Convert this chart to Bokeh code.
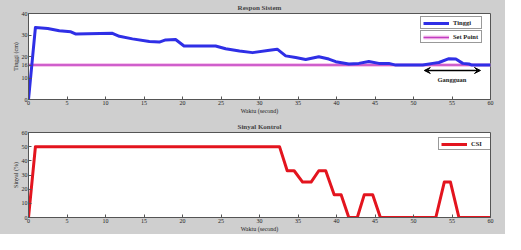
from bokeh.plotting import figure
from bokeh.layouts import column
from bokeh.models import Range1d, Legend, LegendItem, Arrow, VeeHead, Label, FixedTicker
from bokeh.embed import file_html
from bokeh.resources import INLINE

# ---- data ----
t_tinggi = [0, 0.9, 2.5, 4, 5.5, 6.1, 10.9, 11.8, 13.5, 15.7, 17, 17.8, 19.1, 20.2, 24.3, 25.6,
            27.4, 29.1, 31.3, 32.3, 33.4, 34.7, 36, 37.7, 39, 39.9, 41.6, 42.9, 44.2, 45.5,
            46.8, 47.7, 51.2, 52.5, 53.3, 54.6, 55.5, 56.4, 57.2, 57.6, 60]
tinggi = [0, 33.5, 33, 32, 31.5, 30.5, 30.8, 29.4, 28.2, 27, 26.7, 27.7, 27.9, 24.9, 24.9, 23.6,
          22.6, 21.8, 22.9, 23.4, 20.3, 19.5, 18.6, 19.9, 18.8, 17.6, 16.5, 16.8, 17.7, 16.8,
          16.8, 16, 16, 16.8, 17.2, 19, 18.8, 16.8, 16.5, 16, 16]
setpoint_t = [0, 60]
setpoint = [16, 16]

t_sinyal = [0, 0.9, 32.6, 33.6, 34.5, 35.6, 36.7, 37.7, 38.6, 39.7, 40.6, 41.6, 42.7, 43.6,
            44.7, 45.7, 52.9, 54.0, 54.8, 55.9, 60]
sinyal = [0, 50, 50, 33, 33, 25, 25, 33, 33, 16, 16, 0, 0, 16, 16, 0, 0, 25, 25, 0, 0]

gangguan_x = [51.4, 58.7]
gangguan_y = 13.5
gangguan_label = (55, 9.5)

x_ticks = [0, 5, 10, 15, 20, 25, 30, 35, 40, 45, 50, 55, 60]
y1_ticks = [0, 10, 16, 20, 30, 40]
y2_ticks = [0, 10, 20, 30, 40, 50, 60]

FONT = "Liberation Serif"
FS = "6px"
BG = "#cfcfcf"


def style(p, yticks, xlabel, ylabel):
    p.xgrid.visible = False
    p.ygrid.visible = False
    p.background_fill_color = "white"
    p.border_fill_color = BG
    p.outline_line_color = "#555555"
    p.outline_line_width = 1
    p.title.align = "center"
    p.title.text_font = FONT
    p.title.text_font_size = "7px"
    p.title.text_font_style = "bold"
    p.title.standoff = 3
    p.xaxis.ticker = FixedTicker(ticks=x_ticks)
    p.yaxis.ticker = FixedTicker(ticks=yticks)
    p.xaxis.axis_label = xlabel
    p.yaxis.axis_label = ylabel
    for ax in p.xaxis + p.yaxis:
        ax.major_tick_in = 3
        ax.major_tick_out = 0
        ax.minor_tick_line_color = None
        ax.axis_line_color = "#555555"
        ax.major_tick_line_color = "#555555"
        ax.major_label_text_font = FONT
        ax.major_label_text_font_size = FS
        ax.major_label_text_color = "#222222"
        ax.major_label_standoff = 1
        ax.axis_label_text_font = FONT
        ax.axis_label_text_font_size = FS
        ax.axis_label_text_font_style = "normal"
        ax.axis_label_text_color = "#222222"
        ax.axis_label_standoff = 0


def legend(p, label, renderers, loc):
    lg = Legend(items=[LegendItem(label=label, renderers=renderers)], location=loc,
                label_text_font=FONT, label_text_font_size="6.5px", label_text_font_style="bold",
                label_text_color="#222222",
                glyph_width=26, glyph_height=6, label_height=6, label_width=26,
                label_standoff=4, padding=2, margin=0, spacing=0,
                border_line_color="#333333", border_line_width=1,
                background_fill_color="white", background_fill_alpha=1)
    p.add_layout(lg)


# ---- top figure ----
p1 = figure(width=505, height=116, output_backend="svg", toolbar_location=None,
            title="Respon Sistem", x_range=Range1d(0, 60), y_range=Range1d(0, 40),
            min_border_left=28, min_border_right=15, min_border_top=12, min_border_bottom=14)
style(p1, y1_ticks, "Waktu (second)", "Tinggi (cm)")

sp_halo = p1.line(setpoint_t, setpoint, line_color="#f6c6ec", line_width=4)
sp_line = p1.line(setpoint_t, setpoint, line_color="#c23cc2", line_width=1.5)
r_t = p1.line(t_tinggi, tinggi, line_color="#2f2fe6", line_width=3, line_join="round")

p1.add_layout(Arrow(x_start=gangguan_x[0], x_end=gangguan_x[1], y_start=gangguan_y, y_end=gangguan_y,
                    line_color="black", line_width=1.5,
                    start=VeeHead(size=6, line_color="black", fill_color="black"),
                    end=VeeHead(size=6, line_color="black", fill_color="black")))
p1.add_layout(Label(x=gangguan_label[0], y=gangguan_label[1], text="Gangguan",
                    text_font=FONT, text_font_size="6.5px", text_font_style="bold",
                    text_color="#222222", text_align="center", text_baseline="middle"))

legend(p1, "Tinggi", [r_t], (392, 70))
legend(p1, "Set Point", [sp_halo, sp_line], (392, 56))

# ---- bottom figure ----
p2 = figure(width=505, height=118, output_backend="svg", toolbar_location=None,
            title="Sinyal Kontrol", x_range=Range1d(0, 60), y_range=Range1d(0, 60),
            min_border_left=28, min_border_right=15, min_border_top=16, min_border_bottom=14)
style(p2, y2_ticks, "Waktu (second)", "Sinyal (%)")

r_s = p2.line(t_sinyal, sinyal, line_color="#e3141e", line_width=3, line_join="round")
legend(p2, "CSI", [r_s], (410, 67))

layout = column(p1, p2, spacing=0, background=BG)
open("out.html", "w").write(file_html(layout, INLINE))
